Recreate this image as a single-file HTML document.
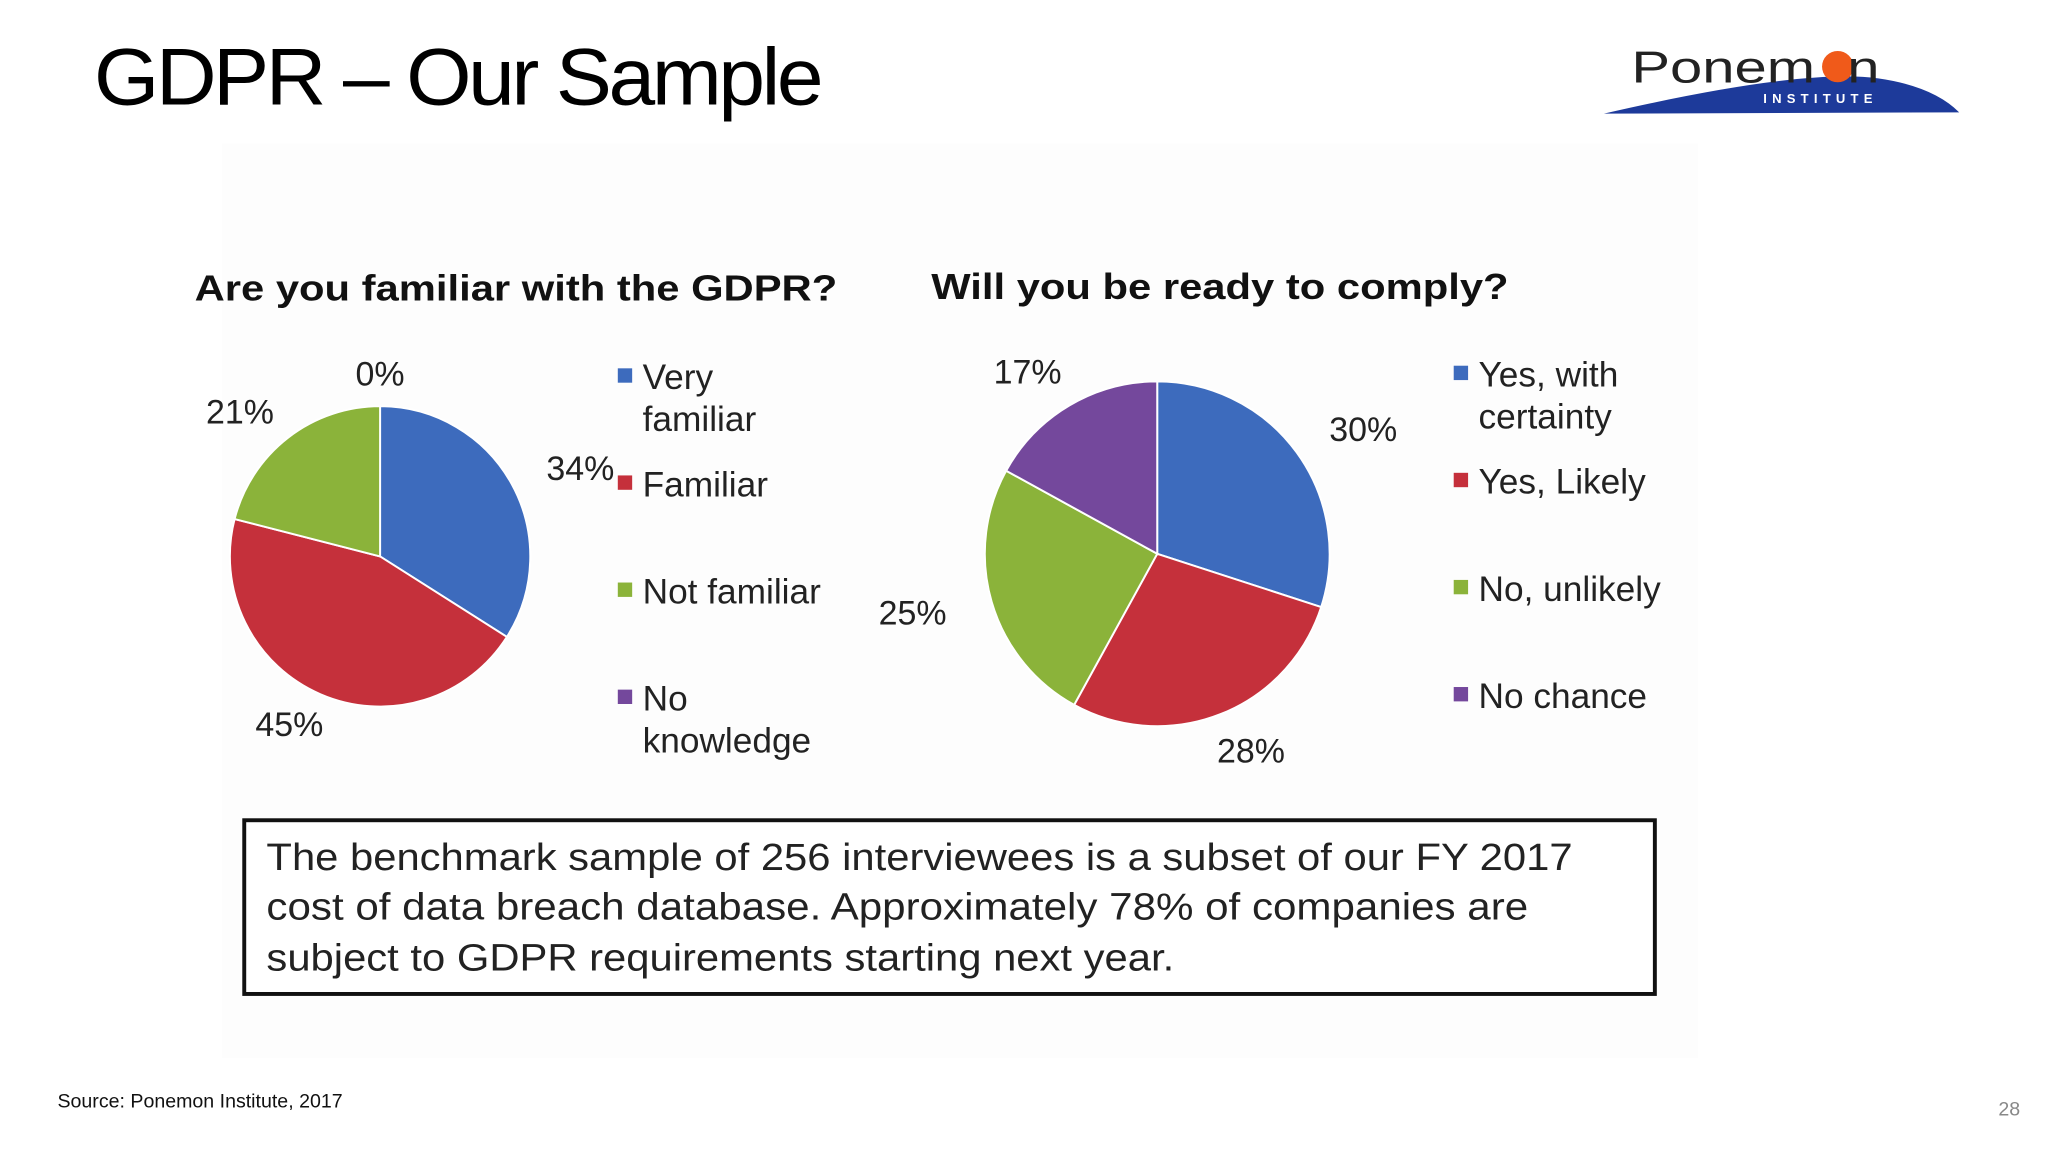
<!DOCTYPE html>
<html><head><meta charset="utf-8"><style>
html,body{margin:0;padding:0;background:#fff;overflow:hidden}
#stage{width:1568px;height:882px;transform:scale(1.306122);transform-origin:0 0;position:relative;font-family:"Liberation Sans",sans-serif}
</style></head><body>
<div id="stage">
<svg width="1568" height="882" viewBox="0 0 1568 882" xmlns="http://www.w3.org/2000/svg">
<rect x="170" y="110" width="1130" height="700" fill="#fdfdfd"/>
<text x="72" y="80" font-size="62" font-family="Liberation Sans, sans-serif" letter-spacing="-2.5" fill="#000" textLength="556" lengthAdjust="spacingAndGlyphs">GDPR – Our Sample</text>
<g>
<path d="M1228 87 Q1380 52 1438 60 Q1480 66 1500 86 Z" fill="#1d3a9a"/>
<circle cx="1407" cy="51" r="12" fill="#f05a1a"/>
<text x="1249" y="63" font-size="34" fill="#222" textLength="190" lengthAdjust="spacingAndGlyphs">Ponem&#160;&#160;n</text>
<text x="1350" y="79" font-size="10" font-weight="bold" fill="#fff" letter-spacing="4">INSTITUTE</text>
</g>
<text x="149" y="230" font-size="28" font-weight="bold" fill="#111" textLength="492" lengthAdjust="spacingAndGlyphs">Are you familiar with the GDPR?</text>
<text x="713" y="229" font-size="28" font-weight="bold" fill="#111" textLength="442" lengthAdjust="spacingAndGlyphs">Will you be ready to comply?</text>
<g id="pie1"></g><g id="pie2"></g>
<g id="leg1"></g><g id="leg2"></g>
<rect x="187" y="628" width="1080" height="133" fill="#fff" stroke="#111" stroke-width="3"/>
<g font-size="29" fill="#222">
<text x="204" y="666" textLength="1000" lengthAdjust="spacingAndGlyphs">The benchmark sample of 256 interviewees is a subset of our FY 2017</text>
<text x="204" y="704" textLength="966" lengthAdjust="spacingAndGlyphs">cost of data breach database.  Approximately 78% of companies are</text>
<text x="204" y="743" textLength="695" lengthAdjust="spacingAndGlyphs">subject to GDPR requirements starting next year.</text>
</g>
<text x="44" y="848" font-size="15" fill="#111">Source: Ponemon Institute, 2017</text>
<text x="1530" y="854" font-size="15" fill="#888">28</text>
</svg>
</div>
<script>
const colors=["#3d6bbd","#c5303b","#8bb33a","#74489c"];
const cats1=["Very familiar","Familiar","Not familiar","No knowledge"];
const vals1=[34,45,21,0];
const cats2=["Yes, with certainty","Yes, Likely","No, unlikely","No chance"];
const vals2=[30,28,25,17];
const NS="http://www.w3.org/2000/svg";
function mk(t,a){const e=document.createElementNS(NS,t);for(const k in a)e.setAttribute(k,a[k]);return e;}
function pie(g,vals,cx,cy,r,lrx,lry,name){
  const tot=vals.reduce((a,b)=>a+b,0);let a0=0;
  vals.forEach((v,i)=>{
    const a1=a0+v/tot*2*Math.PI;
    if(v>0){
      const x0=cx+r*Math.sin(a0),y0=cy-r*Math.cos(a0),x1=cx+r*Math.sin(a1),y1=cy-r*Math.cos(a1);
      const p=mk("path",{d:`M${cx},${cy}L${x0},${y0}A${r},${r} 0 ${a1-a0>Math.PI?1:0} 1 ${x1},${y1}Z`,fill:colors[i],stroke:"#fff","stroke-width":1.5});
      
      
      g.appendChild(p);
    }
    const am=(a0+a1)/2;
    const lx=cx+lrx*Math.sin(am),ly=cy-lry*Math.cos(am)+9;
    const t=mk("text",{x:lx,y:ly,"font-size":26,fill:"#222","text-anchor":"middle"});
    t.textContent=v+"%";
    
    
    g.appendChild(t);
    a0=a1;
  });
}
pie(document.getElementById("pie1"),vals1,291,426,115,175,140,"familiar-pie");
pie(document.getElementById("pie2"),vals2,886,424,132,195,162,"comply-pie");
function legend(g,cats,x,ys,name){
  cats.forEach((c,i)=>{
    const y=ys[i];
    const s=mk("rect",{x:x,y:y-16,width:11,height:11,fill:colors[i]});
    
    
    g.appendChild(s);
    let lines;
    if(c==="Very familiar")lines=["Very","familiar"];
    else if(c==="No knowledge")lines=["No","knowledge"];
    else if(c==="Yes, with certainty")lines=["Yes, with","certainty"];
    else lines=[c];
    lines.forEach((l,j)=>{
      const t=mk("text",{x:x+19,y:y+j*32,"font-size":27,fill:"#222"});
      t.textContent=l;
      
      
      g.appendChild(t);
    });
  });
}
legend(document.getElementById("leg1"),cats1,473,[298,380,462,544],"familiar");
legend(document.getElementById("leg2"),cats2,1113,[296,378,460,542],"comply");
</script>
</body></html>
